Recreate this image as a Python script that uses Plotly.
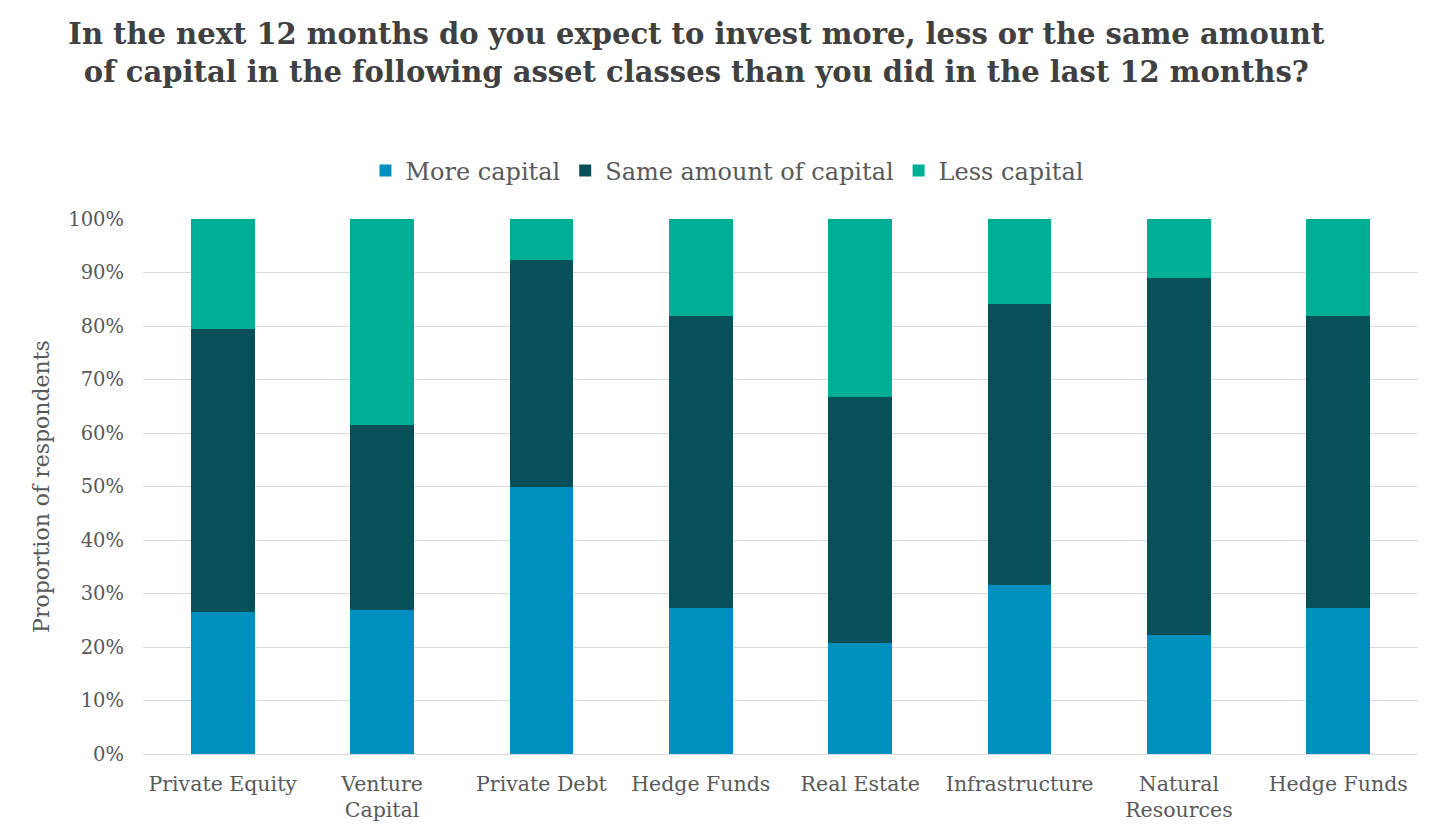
import plotly.graph_objects as go

categories = ["Private Equity", "Venture<br>Capital", "Private Debt", "Hedge Funds",
              "Real Estate", "Infrastructure", "Natural<br>Resources", "Hedge Funds"]
more_capital = [26.5, 27.0, 50.0, 27.3, 20.8, 31.6, 22.2, 27.3]
same_capital = [52.9, 34.5, 42.3, 54.5, 45.9, 52.6, 66.7, 54.5]
less_capital = [20.6, 38.5, 7.7, 18.2, 33.3, 15.8, 11.1, 18.2]
tick_vals = [0, 10, 20, 30, 40, 50, 60, 70, 80, 90, 100]
tick_text = [f"{v}%" for v in tick_vals]

x = list(range(len(categories)))
font_family = "DejaVu Serif, Georgia, serif"

fig = go.Figure()
for name, vals, col in [("More capital", more_capital, "#008FBF"),
                        ("Same amount of capital", same_capital, "#07505A"),
                        ("Less capital", less_capital, "#00AE96")]:
    fig.add_trace(go.Bar(x=x, y=vals, name=name, marker=dict(color=col, line=dict(width=0)),
                         width=0.4))

fig.update_layout(
    barmode="stack",
    width=1440, height=828,
    paper_bgcolor="white", plot_bgcolor="white",
    margin=dict(l=135, r=30, t=211, b=82),
    font=dict(family=font_family, color="#595959"),
    title=dict(text="<b>In the next 12 months do you expect to invest more, less or the same amount<br>of capital in the following asset classes than you did in the last 12 months?</b>",
               x=0.478, xanchor="center", y=0.956, yanchor="top",
               font=dict(size=29, color="#404040", family=font_family)),
    legend=dict(orientation="h", x=0.458, xanchor="center", y=1.09, yanchor="middle",
                font=dict(size=24, color="#595959"), traceorder="normal",
                itemwidth=30),
    xaxis=dict(tickmode="array", tickvals=x, ticktext=categories, range=[-0.5, 7.5],
               tickfont=dict(size=20.5, color="#595959"), showgrid=False,
               showline=True, linecolor="#D9D9D9", linewidth=1, ticks="",
               ticklabelstandoff=11),
    yaxis=dict(range=[0, 100], tickmode="array", tickvals=tick_vals, ticktext=tick_text,
               tickfont=dict(size=19.5, color="#595959"), showgrid=True, gridcolor="#D9D9D9",
               gridwidth=1, zeroline=False, ticklabelstandoff=18,
               title=dict(text="Proportion of respondents", font=dict(size=22, color="#595959"), standoff=12)),
)

fig.write_html("out.html")
